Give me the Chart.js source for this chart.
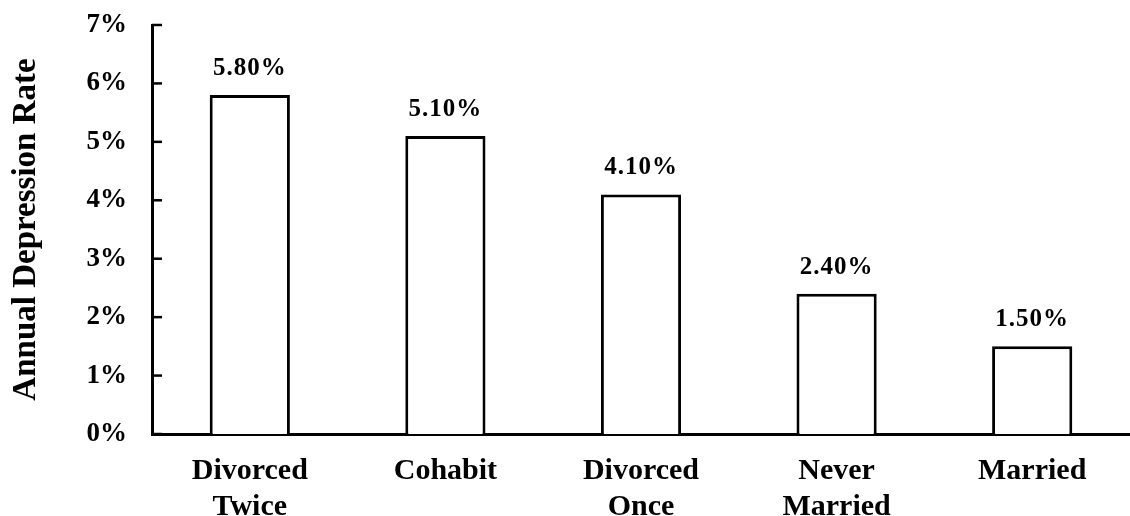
<!doctype html>
<html>
	<head>
		<title>Annual Depression Rate</title>
		<script src="https://cdn.jsdelivr.net/npm/chart.js@4.4.1/dist/chart.umd.min.js"></script>
		<style>
			body { margin: 0; background: #fff; }
			#wrap { width: 1130px; height: 516px; }
		</style>
	</head>
	<body>
		<div id="wrap">
			<canvas id="rateChart"></canvas>
		</div>

	<script>
		var categories = [["Divorced", "Twice"], ["Cohabit"], ["Divorced", "Once"], ["Never", "Married"], ["Married"]];
		var rates = [5.8, 5.1, 4.1, 2.4, 1.5];
		var rateLabels = ["5.80%", "5.10%", "4.10%", "2.40%", "1.50%"];
		var yTicks = [0, 1, 2, 3, 4, 5, 6, 7];

		var serif = "'Liberation Serif', 'Times New Roman', serif";

		// short ticks pointing into the plot, like the original
		var innerTicks = {
			id: "innerTicks",
			afterDraw: function(chart) {
				var ctx = chart.ctx;
				var y = chart.scales.y;
				ctx.save();
				ctx.strokeStyle = "#000";
				ctx.lineWidth = 2.5;
				yTicks.forEach(function(v) {
					var py = y.getPixelForValue(v);
					ctx.beginPath();
					ctx.moveTo(y.right, py);
					ctx.lineTo(y.right + 10, py);
					ctx.stroke();
				});
				ctx.restore();
			}
		};

		// value text above each bar
		var valueLabels = {
			id: "valueLabels",
			afterDatasetsDraw: function(chart) {
				var ctx = chart.ctx;
				var meta = chart.getDatasetMeta(0);
				ctx.save();
				ctx.fillStyle = "#000";
				ctx.font = "bold 25px " + serif;
				ctx.letterSpacing = "1px";
				ctx.textAlign = "center";
				ctx.textBaseline = "alphabetic";
				meta.data.forEach(function(bar, i) {
					ctx.fillText(rateLabels[i], bar.x, bar.y - 20);
				});
				ctx.restore();
			}
		};

		var ctx = document.getElementById("rateChart").getContext("2d");
		var chart = new Chart(ctx, {
			type: "bar",
			data: {
				labels: categories,
				datasets: [{
					data: rates,
					backgroundColor: "#fff",
					borderColor: "#000",
					borderWidth: 3,
					barPercentage: 0.41,
					categoryPercentage: 1
				}]
			},
			options: {
				responsive: true,
				maintainAspectRatio: false,
				animation: false,
				layout: { padding: { top: 25, right: 0, left: 0, bottom: 0 } },
				plugins: {
					legend: { display: false },
					tooltip: { enabled: false }
				},
				scales: {
					x: {
						grid: { display: false, drawTicks: false },
						border: { display: true, color: "#000", width: 3 },
						ticks: {
							color: "#000",
							padding: 19,
							maxRotation: 0,
							font: { family: serif, size: 30, weight: "bold", lineHeight: 1.2 }
						},
						afterFit: function(scale) {
							scale.height = 82;
							scale.paddingLeft = 0;
							scale.paddingRight = 0;
						}
					},
					y: {
						min: 0,
						max: 7,
						grid: { display: false, drawTicks: false },
						border: { display: true, color: "#000", width: 3 },
						ticks: {
							stepSize: 1,
							color: "#000",
							padding: 25,
							font: { family: serif, size: 27, weight: "bold" },
							callback: function(v) { return v + "%"; }
						},
						title: {
							display: true,
							text: "Annual Depression Rate",
							color: "#000",
							padding: { top: 7, bottom: 0 },
							font: { family: serif, size: 33, weight: "bold" }
						},
						afterFit: function(scale) {
							scale.width = 152;
							scale.paddingTop = 0;
							scale.paddingBottom = 0;
						}
					}
				}
			},
			plugins: [innerTicks, valueLabels]
		});
	</script>
	</body>
</html>
